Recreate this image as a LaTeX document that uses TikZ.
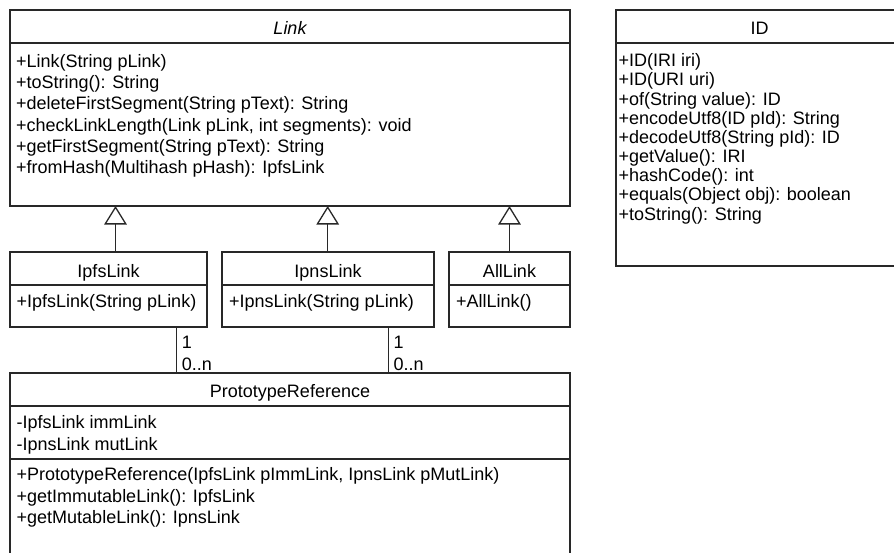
\documentclass[tikz,border=0pt]{standalone}
\usepackage{fontspec}
\setmainfont{Liberation Sans}
\usetikzlibrary{arrows.meta}
\definecolor{umlline}{RGB}{40,40,40}
\begin{document}
\begin{tikzpicture}[x=1pt,y=-1pt,
  classbox/.style={draw=umlline, line width=1.3pt, anchor=north west,
    inner sep=0pt, outer sep=0pt, fill=white},
  member/.style={anchor=base west, inner sep=0pt, font=\fontsize{18}{21}\selectfont},
  title/.style={anchor=base, inner sep=0pt, font=\fontsize{18}{21}\selectfont},
  divider/.style={draw=umlline, line width=1.3pt},
  inherits/.style={draw=umlline, line width=1.3pt,
    -{Triangle[open, length=18.5pt, width=22.5pt, fill=white]}},
  assoc/.style={draw=umlline, line width=1.3pt},
  mult/.style={anchor=base west, inner sep=0pt, font=\fontsize{18}{21}\selectfont}]

\useasboundingbox (0,0) rectangle (894,552);
\clip (0,0) rectangle (894,552);

% class frames
\node[classbox, minimum width=560pt, minimum height=196pt] (link)  at (10,10)  {};
\node[classbox, minimum width=287pt, minimum height=256pt] (id)    at (616,10) {};
\node[classbox, minimum width=197pt, minimum height=75pt]  (ipfs)  at (10,252) {};
\node[classbox, minimum width=212pt, minimum height=75pt]  (ipns)  at (222,252) {};
\node[classbox, minimum width=121pt, minimum height=75pt]  (all)   at (449,252) {};
\node[classbox, minimum width=560pt, minimum height=200pt] (proto) at (10,373) {};

% compartment dividers
\foreach \b in {link,id,ipfs,ipns,all,proto}
  \draw[divider] ([yshift=-33pt]\b.north west) -- ([yshift=-33pt]\b.north east);
\draw[divider] ([yshift=-86pt]proto.north west) -- ([yshift=-86pt]proto.north east);

% Link
\node[title] (linkT) at (290,34.5) {\itshape Link};
\node[member] (lm1) at (16,67.7)  {+Link(String pLink)};
\node[member] (lm2) at (16,88.8)  {+toString(): String};
\node[member] (lm3) at (16,109.9) {+deleteFirstSegment(String pText): String};
\node[member] (lm4) at (16,131.0) {+checkLinkLength(Link pLink, int segments): void};
\node[member] (lm5) at (16,152.1) {+getFirstSegment(String pText): String};
\node[member] (lm6) at (16,173.2) {+fromHash(Multihash pHash): IpfsLink};

% ID
\node[title] (idT) at (759.5,34.5) {ID};
\node[member] (im1) at (618.5,66.7)  {+ID(IRI iri)};
\node[member] (im2) at (618.5,85.9)  {+ID(URI uri)};
\node[member] (im3) at (618.5,105.0) {+of(String value): ID};
\node[member] (im4) at (618.5,124.2) {+encodeUtf8(ID pId): String};
\node[member] (im5) at (618.5,143.4) {+decodeUtf8(String pId): ID};
\node[member] (im6) at (618.5,162.5) {+getValue(): IRI};
\node[member] (im7) at (618.5,181.7) {+hashCode(): int};
\node[member] (im8) at (618.5,200.9) {+equals(Object obj): boolean};
\node[member] (im9) at (618.5,220.0) {+toString(): String};

% subclasses
\node[title] (ipfsT) at (108.5,277.3) {IpfsLink};
\node[member] (pm1) at (16.5,307.5) {+IpfsLink(String pLink)};
\node[title] (ipnsT) at (328,277.3) {IpnsLink};
\node[member] (nm1) at (229,307.5) {+IpnsLink(String pLink)};
\node[title] (allT) at (509.5,277.3) {AllLink};
\node[member] (am1) at (456,307.5) {+AllLink()};

% PrototypeReference
\node[title] (protoT) at (290,397.5) {PrototypeReference};
\node[member] (ra1) at (16.5,428.5) {-IpfsLink immLink};
\node[member] (ra2) at (16.5,450.0) {-IpnsLink mutLink};
\node[member] (rm1) at (16.5,480.5) {+PrototypeReference(IpfsLink pImmLink, IpnsLink pMutLink)};
\node[member] (rm2) at (16.5,502.0) {+getImmutableLink(): IpfsLink};
\node[member] (rm3) at (16.5,523.5) {+getMutableLink(): IpnsLink};

% generalisations
\coordinate (g1) at (115.5,0);
\coordinate (g2) at (327.7,0);
\coordinate (g3) at (509.5,0);
\draw[inherits] (ipfs.north -| g1) -- (link.south -| g1);
\draw[inherits] (ipns.north -| g2) -- (link.south -| g2);
\draw[inherits] (all.north -| g3) -- (link.south -| g3);

% associations
\coordinate (c1) at (176.5,0);
\coordinate (c2) at (388.7,0);
\draw[assoc] (ipfs.south -| c1) -- (proto.north -| c1);
\draw[assoc] (ipns.south -| c2) -- (proto.north -| c2);
\node[mult] (m1a) at (181.7,348) {1};
\node[mult] (m1b) at (181.7,370) {0..n};
\node[mult] (m2a) at (393.5,348) {1};
\node[mult] (m2b) at (393.5,370) {0..n};
\end{tikzpicture}
\end{document}
